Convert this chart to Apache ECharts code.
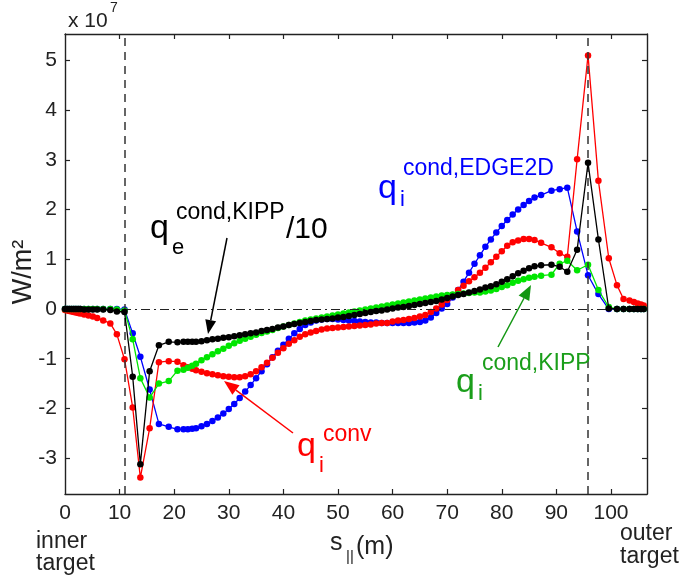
<!DOCTYPE html>
<html>
<head>
<meta charset="utf-8">
<script src="https://cdn.jsdelivr.net/npm/echarts@6/dist/echarts.min.js"></script>
<style>html,body{margin:0;padding:0;background:#fff}#c{width:697px;height:582px}</style>
</head>
<body>
<div id="c"></div>
<script>
// s_parallel grid (m)
const sGrid = [0,0.4,0.8,1.2,1.6,2.0,2.4,2.8,3.5,4.3,5.1,5.9,7.0,8.3,9.5,10.9,12.4,13.8,15.5,17.2,19.0,20.6,21.7,
  22.5,23.3,24,25,26,27,28,29,30,31,32,33,34,35,36,37,38,39,40,41,42,43,44,45,46,47,48,49,50,51,52,53,54,55,56,57,58,59,60,61,62,63,64,65,66,67,68,69,70,71,72,73,74,75,76,77,78,79,80,81,82,83,84,85,86,
  87.2,89.1,90.6,92.0,93.8,95.8,97.7,99.6,101.1,102.3,103.4,104.2,104.9,105.5,106];

// values in units of 1e7 W/m^2
const qeCondKipp10 = [0,0,0,0,0,0,0,0,-0.01,-0.01,-0.01,-0.01,-0.01,-0.02,-0.05,-0.06,-1.36,-3.12,-1.25,-0.73,-0.66,-0.67,-0.66,
  -0.66,-0.66,-0.66,-0.65,-0.63,-0.61,-0.60,-0.58,-0.57,-0.55,-0.53,-0.51,-0.49,-0.47,-0.44,-0.42,-0.40,-0.37,-0.35,-0.32,-0.30,-0.28,-0.26,-0.24,-0.22,-0.21,-0.20,-0.19,-0.17,-0.16,-0.14,-0.12,-0.10,-0.08,-0.06,-0.04,-0.03,-0.01,0.01,0.03,0.04,0.06,0.08,0.10,0.12,0.14,0.16,0.19,0.22,0.25,0.28,0.30,0.33,0.36,0.39,0.43,0.46,0.50,0.55,0.60,0.66,0.72,0.77,0.82,0.86,
  0.88,0.89,0.85,0.75,1.19,2.94,1.40,0.01,0,0,0,0,0,0,0];

const qiCondKipp = [0,0,0,0,0,0,0,0,0,0,0,0,0,0,-0.01,-0.03,-0.61,-1.39,-1.78,-1.50,-1.45,-1.24,-1.22,
  -1.18,-1.14,-1.10,-1.03,-0.97,-0.91,-0.85,-0.80,-0.74,-0.69,-0.64,-0.60,-0.56,-0.52,-0.48,-0.45,-0.42,-0.38,-0.35,-0.32,-0.29,-0.26,-0.23,-0.21,-0.19,-0.17,-0.15,-0.13,-0.11,-0.09,-0.07,-0.05,-0.03,-0.01,0.01,0.03,0.05,0.07,0.09,0.11,0.13,0.15,0.17,0.19,0.21,0.23,0.25,0.27,0.28,0.29,0.30,0.31,0.32,0.33,0.33,0.35,0.37,0.40,0.44,0.48,0.53,0.57,0.60,0.63,0.65,
  0.67,0.69,0.91,0.97,0.78,0.89,0.38,0.04,0,0,0,0,0,0,0];

const qiConv = [-0.02,-0.03,-0.04,-0.05,-0.06,-0.07,-0.08,-0.09,-0.11,-0.13,-0.15,-0.18,-0.23,-0.29,-0.51,-1.01,-1.98,-3.39,-2.40,-1.07,-1.05,-1.06,-1.13,
  -1.17,-1.20,-1.23,-1.26,-1.29,-1.31,-1.33,-1.35,-1.36,-1.37,-1.37,-1.35,-1.31,-1.25,-1.17,-1.08,-0.98,-0.88,-0.79,-0.70,-0.63,-0.56,-0.51,-0.47,-0.44,-0.41,-0.39,-0.38,-0.37,-0.36,-0.35,-0.34,-0.33,-0.32,-0.31,-0.29,-0.28,-0.28,-0.25,-0.23,-0.22,-0.20,-0.18,-0.15,-0.12,-0.06,0.01,0.09,0.18,0.28,0.38,0.47,0.56,0.64,0.73,0.83,0.94,1.05,1.16,1.27,1.34,1.38,1.41,1.41,1.39,
  1.33,1.24,1.12,1.05,3.01,5.10,2.58,1.02,0.48,0.20,0.17,0.14,0.11,0.09,0.07];

const qiCondEdge2d = [0,0,0,0,0,0,0,0,0,0,0,0,0,0,0,-0.01,-0.49,-0.96,-1.62,-2.31,-2.37,-2.42,-2.42,
  -2.42,-2.41,-2.40,-2.36,-2.31,-2.25,-2.18,-2.10,-2.01,-1.91,-1.79,-1.66,-1.53,-1.39,-1.25,-1.11,-0.97,-0.84,-0.72,-0.60,-0.49,-0.40,-0.32,-0.27,-0.23,-0.21,-0.20,-0.20,-0.21,-0.22,-0.23,-0.24,-0.25,-0.26,-0.27,-0.27,-0.28,-0.28,-0.28,-0.28,-0.28,-0.28,-0.27,-0.26,-0.23,-0.17,-0.08,0.01,0.10,0.23,0.38,0.55,0.73,0.91,1.08,1.25,1.40,1.54,1.67,1.79,1.90,2.00,2.09,2.17,2.24,
  2.29,2.38,2.41,2.44,1.56,0.68,0.30,0,0,0,0,0,0,0,0];

const xTicks = [0,10,20,30,40,50,60,70,80,90,100];
const yTicks = [-3,-2,-1,0,1,2,3,4,5];
const targetPositions = [10.9, 95.8];

const FONT = "'Liberation Sans', Arial, sans-serif";
const pairs = arr => sGrid.map((s, i) => [s, arr[i]]);

function mk(name, arr, color, z) {
  return {
    name, type: 'line', data: pairs(arr), z,
    symbol: 'circle', symbolSize: 6.5,
    itemStyle: { color },
    lineStyle: { color, width: 1.3 },
    emphasis: { disabled: true }
  };
}

function arrow(x1, y1, x2, y2, color, hl, hw) {
  const a = Math.atan2(y2 - y1, x2 - x1);
  const bx = x2 - hl * Math.cos(a), by = y2 - hl * Math.sin(a);
  const px = -Math.sin(a) * hw / 2, py = Math.cos(a) * hw / 2;
  return [
    { type: 'line', shape: { x1, y1, x2: bx, y2: by }, style: { stroke: color, lineWidth: 1.5 }, z: 50 },
    { type: 'polygon', shape: { points: [[x2, y2], [bx + px, by + py], [bx - px, by - py]] }, style: { fill: color }, z: 50 }
  ];
}
function txt(x, y, text, size, color, extra) {
  return Object.assign({ type: 'text', x, y, z: 60,
    style: { text, fontSize: size, fill: color, fontFamily: FONT, verticalAlign: 'middle', align: 'left' } }, extra || {});
}

const chart = echarts.init(document.getElementById('c'), null, { renderer: 'canvas' });
function axisParts(tickVals) {
  return {
    axisLine: { show: true, onZero: false, lineStyle: { color: '#222', width: 1.4 } },
    axisTick: { show: true, inside: true, length: 5, customValues: tickVals, lineStyle: { color: '#222', width: 1.2 } },
    splitLine: { show: false }
  };
}
const series = [
  mk('qi cond EDGE2D', qiCondEdge2d, '#0000ff', 2),
  mk('qi conv', qiConv, '#ff0000', 3),
  mk('qi cond KIPP', qiCondKipp, '#00e600', 4),
  mk('qe cond KIPP /10', qeCondKipp10, '#000000', 5)
];
series[0].markLine = {
  silent: true, symbol: 'none', label: { show: false },
  data: [
    { yAxis: 0, lineStyle: { color: '#222', width: 1.2, type: [9, 4, 2, 4] } },
    { xAxis: targetPositions[0], lineStyle: { color: '#333', width: 1.5, type: [8, 6] } },
    { xAxis: targetPositions[1], lineStyle: { color: '#333', width: 1.5, type: [8, 6] } }
  ]
};

const graphics = [].concat(
  [txt(68, 21, 'x 10', 21, '#222'), txt(110, 8, '7', 14, '#222'),
   { type: 'text', x: 24, y: 272, rotation: Math.PI / 2, z: 60,
     style: { text: 'W/m\u00B2', fontSize: 27, fill: '#222', fontFamily: FONT, align: 'center', verticalAlign: 'middle' } },
   txt(330, 543, 's', 25, '#222'), txt(346, 557, '||', 15, '#222'), txt(356, 547, '(m)', 25, '#222'),
   txt(36, 542, 'inner', 23, '#222'), txt(36, 564, 'target', 23, '#222'),
   txt(620, 534, 'outer', 23, '#222'), txt(620, 557, 'target', 23, '#222'),
   // black label
   txt(150, 229, 'q', 34, '#000'), txt(172, 248, 'e', 22, '#000'), txt(176, 213, 'cond,KIPP', 23, '#000'), txt(286, 230, '/10', 30, '#000'),
   // blue label
   txt(378, 189, 'q', 34, '#0000ff'), txt(400, 200, 'i', 22, '#0000ff'), txt(403, 169, 'cond,EDGE2D', 23, '#0000ff'),
   // red label
   txt(297, 447, 'q', 34, '#ff0000'), txt(319, 466, 'i', 22, '#ff0000'), txt(323, 435, 'conv', 23, '#ff0000'),
   // green label
   txt(456, 383, 'q', 34, '#1a9e1a'), txt(478, 394, 'i', 22, '#1a9e1a'), txt(482, 364, 'cond,KIPP', 23, '#1a9e1a')
  ],
  arrow(227, 238, 208, 334, '#000', 14, 11),
  arrow(293, 433, 224, 381, '#ff0000', 15, 12),
  arrow(498, 347, 531, 285, '#129612', 15, 12)
);

chart.setOption({
  animation: false,
  grid: { left: 65, right: 50, top: 34, bottom: 88 },
  xAxis: [
    Object.assign({ type: 'value', position: 'bottom', min: 0, max: 106.6,
      axisLabel: { customValues: xTicks, color: '#222', fontSize: 21, fontFamily: FONT, margin: 9 } }, axisParts(xTicks.slice(1))),
    Object.assign({ type: 'value', position: 'top', min: 0, max: 106.6, axisLabel: { show: false } }, axisParts(xTicks.slice(1)))
  ],
  yAxis: [
    Object.assign({ type: 'value', position: 'left', min: -3.72, max: 5.53,
      axisLabel: { customValues: yTicks, color: '#222', fontSize: 21, fontFamily: FONT, margin: 8 } }, axisParts(yTicks)),
    Object.assign({ type: 'value', position: 'right', min: -3.72, max: 5.53, axisLabel: { show: false } }, axisParts(yTicks))
  ],
  series,
  graphic: graphics
});
</script>
</body>
</html>
